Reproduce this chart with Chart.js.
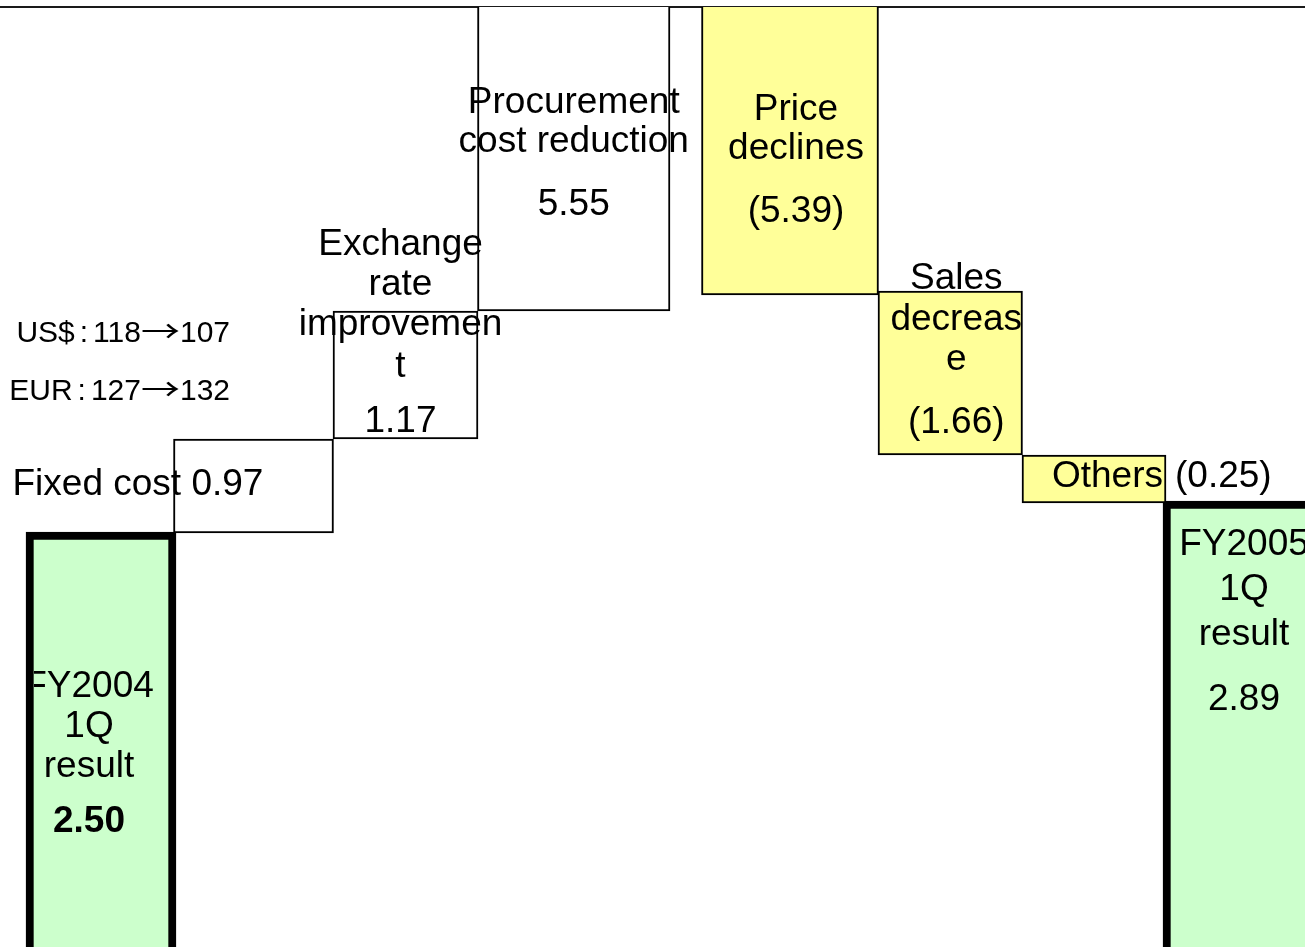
<!DOCTYPE html>
<html>
<head>
<meta charset="utf-8">
<title>FY2004 1Q → FY2005 1Q result bridge</title>
<script src="https://cdn.jsdelivr.net/npm/chart.js@4/dist/chart.umd.min.js"></script>
<style>
  html, body { margin: 0; padding: 0; background: #ffffff; overflow: hidden; }
  #wrap { width: 1305px; height: 947px; position: relative; }
  canvas { display: block; }
</style>
</head>
<body>
<div id="wrap"><canvas id="c" width="1305" height="947"></canvas></div>
<script>
// ---------------- data ----------------
const stepNames  = ['FY2004 1Q result', 'Fixed cost', 'Exchange rate improvement', 'Procurement cost reduction',
                    'Price declines', 'Sales decrease', 'Others', 'FY2005 1Q result'];
const stepValues = [2.50, 0.97, 1.17, 5.55, -5.39, -1.66, -0.25, 2.89];
const valueTexts = ['2.50', '0.97', '1.17', '5.55', '(5.39)', '(1.66)', '(0.25)', '2.89'];
const stepKinds  = ['total', 'up', 'up', 'up', 'down', 'down', 'down', 'total'];

// bar extents as drawn on the slide (not to scale: totals run off the bottom,
// the two largest steps run off the top of the frame)
const barLow  = [-1.00, 4.14, 5.08, 6.36, 6.52, 4.92, 4.44, -1.00];
const barHigh = [ 4.15, 5.08, 6.36, 9.60, 9.60, 6.56, 4.92,  4.46];

// horizontal slot of each bar on the slide
const slotStart = [ 2.60, 17.35, 33.30, 47.75, 70.15,  87.80, 102.20, 116.30];
const slotEnd   = [17.60, 33.35, 47.80, 67.00, 87.85, 102.25, 116.60, 134.00];

// text shown on the slide
const labelLines = [
  ['FY2004', '1Q', 'result'],
  ['Fixed cost'],
  ['Exchange', 'rate', 'improvemen', 't'],
  ['Procurement', 'cost reduction'],
  ['Price', 'declines'],
  ['Sales', 'decreas', 'e'],
  ['Others'],
  ['FY2005', '1Q', 'result']
];
const rateCurrencies = ['US$', 'EUR'];
const rateFrom = ['118', '127'];
const rateTo   = ['107', '132'];

// ---------------- styles / layout ----------------
const W = 1305;
const xMin = 0, xMax = 130.5, yMin = 0, yMax = 9.4;
const pxPerUnit = W / (xMax - xMin);
const FONT = '"Liberation Sans", Arial, sans-serif';
const CJK = '"Noto Sans CJK JP", sans-serif';
const fills   = { total: '#CCFFCC', up: '#FFFFFF', down: '#FFFF99' };
const borders = { total: 8, up: 2, down: 2 };

// label placement relative to each bar (pixels)
const labelLayout = [
  { ax: 'center', ay: 'top',    dx: -12,  align: 'center', lineY: [165, 205, 245], valueY: 300, valueBold: true, clipToBar: true },
  { ax: 'left',   ay: 'top',    dx: -161, align: 'left',   lineY: [56], inlineValue: true },
  { ax: 'center', ay: 'top',    dx: -5,   align: 'center', lineY: [-56, -16, 24, 66], valueY: 121 },
  { ax: 'center', ay: 'bottom', dx: 0,    align: 'center', lineY: [-198, -159], valueY: -96 },
  { ax: 'center', ay: 'bottom', dx: 6,    align: 'center', lineY: [-175, -136], valueY: -73 },
  { ax: 'center', ay: 'top',    dx: 6,    align: 'center', lineY: [-2, 39, 79], valueY: 142 },
  { ax: 'right',  ay: 'top',    dx: -3,   align: 'right',  lineY: [32], valueY: 32, valueDx: 12, valueAlign: 'left' },
  { ax: 'left',   ay: 'top',    dx: 81,   align: 'center', lineY: [54, 99, 144], valueY: 209 }
];

const datasets = stepNames.map((name, i) => ({
  label: name,
  data: [{ x: (slotStart[i] + slotEnd[i]) / 2, y: [barLow[i], barHigh[i]] }],
  backgroundColor: fills[stepKinds[i]],
  borderColor: '#000000',
  borderWidth: borders[stepKinds[i]],
  borderSkipped: false,
  barThickness: (slotEnd[i] - slotStart[i]) * pxPerUnit,
  grouped: false,
  clip: 0
}));

// draws "CUR:from→to" right-aligned at x, mixing Latin text with a long CJK arrow
function drawRateLine(ctx, k, xRight, y) {
  const size = 30;
  const latin = size + 'px ' + FONT;
  const arrowFont = size + 'px ' + CJK;
  const arrowStretch = 1.3, gap = 5;
  const segs = [
    { t: rateCurrencies[k], f: latin, post: gap },
    { t: ':', f: latin, post: gap },
    { t: rateFrom[k], f: latin, post: 0 },
    { t: '→', f: arrowFont, post: 0, sx: arrowStretch },
    { t: rateTo[k], f: latin, post: 0 }
  ];
  let total = 0;
  segs.forEach(s => { ctx.font = s.f; s.w = ctx.measureText(s.t).width * (s.sx || 1); total += s.w + s.post; });
  let x = xRight - total;
  ctx.textAlign = 'left';
  segs.forEach(s => {
    ctx.font = s.f;
    if (s.sx) {
      ctx.save(); ctx.translate(x, y); ctx.scale(s.sx, 1); ctx.fillText(s.t, 0, 0); ctx.restore();
    } else {
      ctx.fillText(s.t, x, y);
    }
    x += s.w + s.post;
  });
}

const slideLabels = {
  id: 'slideLabels',
  afterDatasetsDraw(chart) {
    const ctx = chart.ctx;
    const geo = (i) => {
      const el = chart.getDatasetMeta(i).data[0];
      const half = el.width / 2;
      return { cx: el.x, left: el.x - half, right: el.x + half,
               top: Math.min(el.y, el.base), bottom: Math.max(el.y, el.base) };
    };
    ctx.save();
    ctx.fillStyle = '#000000';
    ctx.textBaseline = 'alphabetic';

    labelLayout.forEach((L, i) => {
      const g = geo(i);
      const baseX = (L.ax === 'center' ? g.cx : L.ax === 'left' ? g.left : g.right) + L.dx;
      const baseY = L.ay === 'top' ? g.top : g.bottom;
      ctx.save();
      if (L.clipToBar) {
        const bw = borders[stepKinds[i]];
        ctx.beginPath();
        ctx.rect(g.left + bw, g.top + bw, (g.right - g.left) - 2 * bw, chart.chartArea.bottom - g.top);
        ctx.clip();
      }
      ctx.font = '37px ' + FONT;
      ctx.textAlign = L.align;
      labelLines[i].forEach((line, k) => {
        const txt = L.inlineValue ? line + ' ' + valueTexts[i] : line;
        ctx.fillText(txt, baseX, baseY + L.lineY[k]);
      });
      if (!L.inlineValue) {
        ctx.font = (L.valueBold ? 'bold ' : '') + '37px ' + FONT;
        ctx.textAlign = L.valueAlign || L.align;
        ctx.fillText(valueTexts[i], baseX + (L.valueDx || 0), baseY + L.valueY);
      }
      ctx.restore();
    });

    // exchange-rate note next to the exchange bar
    const ex = geo(2);
    drawRateLine(ctx, 0, ex.left - 103, ex.top + 31);
    drawRateLine(ctx, 1, ex.left - 103, ex.top + 89);
    ctx.restore();
  }
};

new Chart(document.getElementById('c'), {
  type: 'bar',
  data: { datasets },
  options: {
    responsive: false,
    animation: false,
    layout: { padding: { top: 7, left: 0, right: 0, bottom: 0 } },
    plugins: { legend: { display: false }, tooltip: { enabled: false }, title: { display: false } },
    scales: {
      x: {
        type: 'linear', position: 'top', min: xMin, max: xMax, offset: false, z: 1,
        grid: { display: false, drawTicks: false },
        ticks: { display: false },
        border: { display: true, color: '#1a1a1a', width: 2 }
      },
      y: { type: 'linear', min: yMin, max: yMax, display: false }
    }
  },
  plugins: [slideLabels]
});
</script>
</body>
</html>
